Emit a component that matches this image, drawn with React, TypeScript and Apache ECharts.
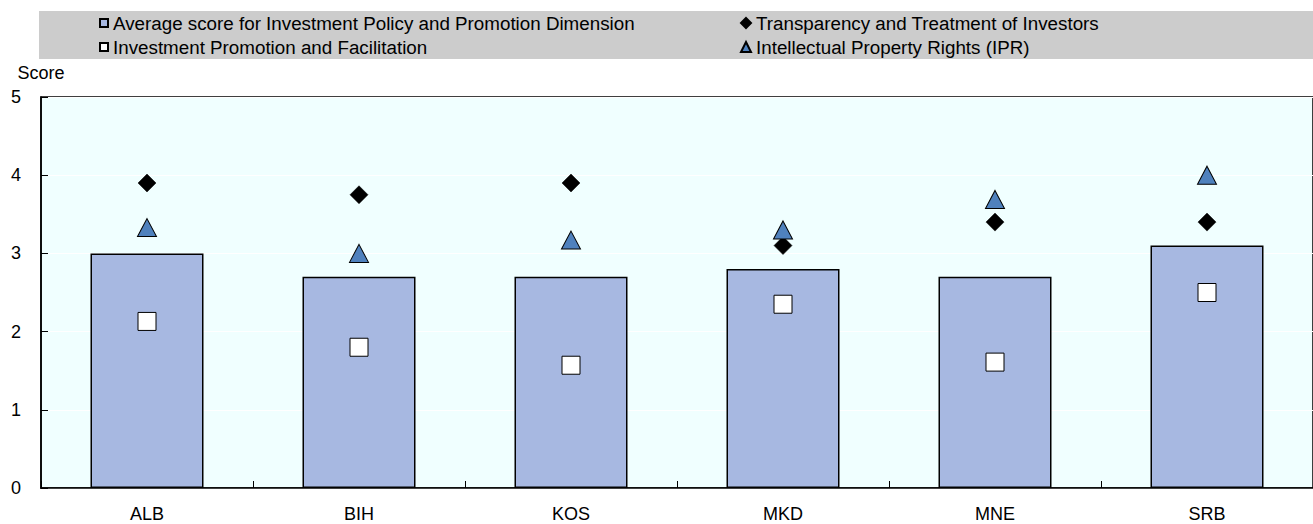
import React, { useEffect, useRef } from "react";
import * as echarts from "echarts";

const categories = ["ALB", "BIH", "KOS", "MKD", "MNE", "SRB"];
const averageScore = [3.0, 2.7, 2.7, 2.8, 2.7, 3.1];
const promotionFacilitation = [2.13, 1.8, 1.57, 2.35, 1.61, 2.5];
const transparency = [3.9, 3.75, 3.9, 3.1, 3.4, 3.4];
const ipr = [3.33, 3.0, 3.17, 3.3, 3.69, 4.0];
const yTicks = [0, 1, 2, 3, 4, 5];

const NAME_AVG = "Average score for Investment Policy and Promotion Dimension";
const NAME_IPF = "Investment Promotion and Facilitation";
const NAME_TTI = "Transparency and Treatment of Investors";
const NAME_IPR = "Intellectual Property Rights (IPR)";

const FONT = "'Liberation Sans', Arial, sans-serif";

export default function App() {
  const ref = useRef<HTMLDivElement>(null);
  useEffect(() => {
    if (!ref.current) return;
    const chart = echarts.init(ref.current, undefined, { renderer: "svg" });
    const legendText = { fontFamily: FONT, fontSize: 18.8, color: "#000", lineHeight: 19 };
    chart.setOption({
      animation: false,
      textStyle: { fontFamily: FONT },
      graphic: [
        {
          type: "rect",
          z: -10,
          shape: { x: 39, y: 11, width: 1274, height: 48 },
          style: { fill: "#CCCCCC" },
        },
      ],
      legend: [
        {
          orient: "vertical",
          left: 99,
          top: 13.5,
          padding: 0,
          itemWidth: 8,
          itemHeight: 8,
          itemGap: 5,
          itemTextGap: 1,
          textStyle: legendText,
          data: [
            { name: NAME_AVG, icon: "rect" },
            { name: NAME_IPF, icon: "rect" },
          ],
        },
        {
          orient: "vertical",
          left: 740,
          top: 13.5,
          padding: 0,
          itemWidth: 10,
          itemHeight: 10,
          itemGap: 5,
          itemTextGap: 4,
          textStyle: legendText,
          data: [
            { name: NAME_TTI, icon: "diamond" },
            { name: NAME_IPR, icon: "triangle" },
          ],
        },
      ],
      grid: {
        left: 41,
        right: -21,
        top: 97,
        bottom: 36,
        show: true,
        backgroundColor: "#F0FFFF",
        borderColor: "#000",
        borderWidth: 1.5,
      },
      xAxis: {
        type: "category",
        data: categories,
        boundaryGap: true,
        axisLine: { show: true, lineStyle: { color: "#000", width: 1.5 } },
        axisTick: { show: true, inside: true, length: 7, lineStyle: { color: "#000", width: 1 } },
        axisLabel: { color: "#000", fontSize: 18, margin: 17, fontFamily: FONT },
        splitLine: { show: false },
      },
      yAxis: {
        type: "value",
        min: yTicks[0],
        max: yTicks[yTicks.length - 1],
        interval: 1,
        name: "Score",
        nameLocation: "end",
        nameGap: 24,
        nameTextStyle: { color: "#000", fontSize: 18, align: "center", verticalAlign: "middle", fontFamily: FONT },
        axisLine: { show: true, lineStyle: { color: "#000", width: 1.5 } },
        axisTick: { show: true, inside: true, length: 7, lineStyle: { color: "#000", width: 1 } },
        axisLabel: { color: "#000", fontSize: 18, margin: 20, align: "right", fontFamily: FONT },
        splitLine: { show: true, lineStyle: { color: "#FFFFFF", width: 1 } },
      },
      series: [
        {
          name: NAME_AVG,
          type: "bar",
          data: averageScore,
          barWidth: 113,
          itemStyle: { color: "#A7B8E1", borderColor: "#000", borderWidth: 1.5 },
          z: 1,
        },
        {
          name: NAME_IPF,
          type: "scatter",
          data: promotionFacilitation,
          symbol: "rect",
          symbolSize: 18,
          itemStyle: { color: "#FFFFFF", borderColor: "#000", borderWidth: 1, opacity: 1 },
          z: 3,
        },
        {
          name: NAME_TTI,
          type: "scatter",
          data: transparency,
          symbol: "diamond",
          symbolSize: [18, 18],
          itemStyle: { color: "#000000", borderColor: "#000", borderWidth: 0.5, opacity: 1 },
          z: 3,
        },
        {
          name: NAME_IPR,
          type: "scatter",
          data: ipr,
          symbol: "triangle",
          symbolSize: [19, 18],
          itemStyle: { color: "#4F81BD", borderColor: "#000", borderWidth: 1, opacity: 1 },
          z: 4,
        },
      ],
    });
    return () => chart.dispose();
  }, []);
  return (
    <div
      ref={ref}
      style={{ position: "absolute", left: 0, top: 0, width: 1313, height: 524 }}
    />
  );
}
